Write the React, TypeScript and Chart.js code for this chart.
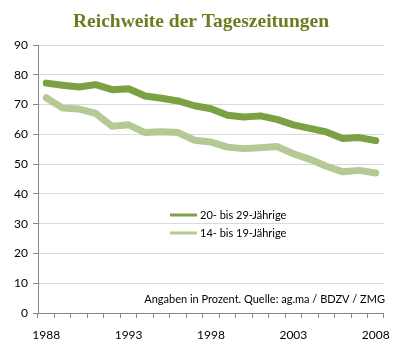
import React, { useEffect, useRef } from "react";
import { Chart, registerables } from "chart.js";

Chart.register(...registerables);

const years: string[] = [
  "1988", "1989", "1990", "1991", "1992", "1993", "1994", "1995", "1996", "1997",
  "1998", "1999", "2000", "2001", "2002", "2003", "2004", "2005", "2006", "2007", "2008",
];
const age20to29: number[] = [
  77.2, 76.5, 75.9, 76.7, 75.0, 75.3, 72.9, 72.1, 71.2, 69.6,
  68.6, 66.4, 65.8, 66.2, 65.0, 63.2, 62.0, 60.8, 58.6, 58.9, 57.9,
];
const age14to19: number[] = [
  72.3, 68.8, 68.5, 67.0, 62.7, 63.2, 60.6, 60.9, 60.6, 58.0,
  57.4, 55.7, 55.2, 55.5, 55.9, 53.5, 51.6, 49.3, 47.4, 47.9, 47.0,
];
const seriesNames: string[] = ["20- bis 29-Jährige", "14- bis 19-Jährige"];
const titleText = "Reichweite der Tageszeitungen";
const noteText = "Angaben in Prozent. Quelle: ag.ma / BDZV / ZMG";

const DARK = "#7aa142";
const LIGHT = "#b5c994";
const FONT = "Lato";

const overlayPlugin = {
  id: "overlay",
  afterDraw(chart: any) {
    const ctx = chart.ctx;
    const area = chart.chartArea;
    ctx.save();
    // title
    ctx.fillStyle = "#6b7d1e";
    ctx.font = "bold 19.5px 'Liberation Serif'";
    ctx.textAlign = "center";
    ctx.textBaseline = "alphabetic";
    ctx.fillText(titleText, 201, 27);
    // legend
    const colors = [DARK, LIGHT];
    ctx.font = `11px ${FONT}`;
    ctx.textAlign = "left";
    ctx.textBaseline = "middle";
    seriesNames.forEach((name, i) => {
      const y = 215 + i * 18;
      ctx.strokeStyle = colors[i];
      ctx.lineWidth = 3;
      ctx.beginPath();
      ctx.moveTo(170, y);
      ctx.lineTo(197, y);
      ctx.stroke();
      ctx.fillStyle = "#000";
      ctx.fillText(name, 200, y);
    });
    // note
    ctx.textAlign = "right";
    ctx.textBaseline = "alphabetic";
    ctx.fillText(noteText, area.right + 1, 303);
    ctx.restore();
  },
};

export default function App() {
  const ref = useRef<HTMLCanvasElement>(null);
  useEffect(() => {
    document.body.style.margin = "0";
    const chart = new Chart(ref.current as HTMLCanvasElement, {
      type: "line",
      data: {
        labels: years,
        datasets: [
          {
            label: seriesNames[0],
            data: age20to29,
            borderColor: DARK,
            borderWidth: 7,
            pointRadius: 0,
            tension: 0,
            borderCapStyle: "round",
            borderJoinStyle: "round",
          },
          {
            label: seriesNames[1],
            data: age14to19,
            borderColor: LIGHT,
            borderWidth: 7,
            pointRadius: 0,
            tension: 0,
            borderCapStyle: "round",
            borderJoinStyle: "round",
          },
        ],
      },
      options: {
        animation: false,
        responsive: false,
        layout: { padding: { left: 0, right: 14, top: 45, bottom: 0 } },
        plugins: {
          legend: { display: false },
          title: { display: false },
          tooltip: { enabled: false },
        },
        scales: {
          x: {
            type: "category",
            offset: true,
            grid: {
              offset: true,
              drawOnChartArea: false,
              drawTicks: true,
              tickLength: 5,
              tickColor: "#868686",
            },
            border: { color: "#868686", width: 1 },
            ticks: {
              autoSkip: false,
              maxRotation: 0,
              padding: 10,
              color: "#000",
              font: { family: FONT, size: 12 },
              callback: (_v: any, i: number) => (i % 5 === 0 ? years[i] : ""),
            },
            afterFit: (s: any) => {
              s.height = 37;
            },
          },
          y: {
            min: 0,
            max: 90,
            grid: {
              color: "#d9d9d9",
              tickLength: 5,
              tickColor: "#868686",
            },
            border: { color: "#868686", width: 1 },
            ticks: {
              stepSize: 10,
              padding: 5,
              color: "#000",
              font: { family: FONT, size: 12 },
            },
            afterFit: (s: any) => {
              s.width = 38;
            },
          },
        },
      },
      plugins: [overlayPlugin],
    } as any);
    return () => chart.destroy();
  }, []);
  return (
    <div style={{ position: "absolute", left: 0, top: 0, width: 400, height: 350 }}>
      <canvas ref={ref} width={400} height={350} />
    </div>
  );
}
